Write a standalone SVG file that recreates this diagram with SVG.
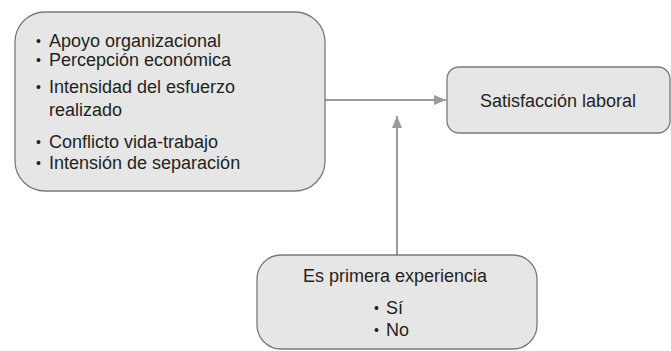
<svg xmlns="http://www.w3.org/2000/svg" width="671" height="351" viewBox="0 0 671 351">
<defs>
<style>
.box{fill:#e6e6e7;stroke:#7a7a7a;stroke-width:1.3}
.t{font-family:"Liberation Sans",Arial,sans-serif;font-size:18px;fill:#231f20}
.b{font-size:14px}
.c{text-anchor:middle}
.conn{stroke:#9a9a9a;stroke-width:2;fill:none}
</style>
<marker id="ah" viewBox="0 0 12 10" refX="12" refY="5" markerWidth="12" markerHeight="10" markerUnits="userSpaceOnUse" orient="auto">
<path d="M0,0 L12,5 L0,10 Z" fill="#9a9a9a"/>
</marker>
</defs>
<g id="connectors">
<line class="conn" x1="325" y1="100" x2="446" y2="100" marker-end="url(#ah)"/>
<line class="conn" x1="397" y1="255" x2="397" y2="116" marker-end="url(#ah)"/>
</g>
<g id="factores">
<rect class="box" x="15" y="12" width="310" height="179" rx="30" ry="30"/>
<text class="t"><tspan class="b" x="36" y="46">•</tspan><tspan x="49" y="47">Apoyo organizacional</tspan></text>
<text class="t"><tspan class="b" x="36" y="65">•</tspan><tspan x="49" y="66">Percepción económica</tspan></text>
<text class="t"><tspan class="b" x="36" y="92">•</tspan><tspan x="49" y="93">Intensidad del esfuerzo</tspan></text>
<text class="t" x="49" y="116">realizado</text>
<text class="t"><tspan class="b" x="36" y="147">•</tspan><tspan x="49" y="148">Conflicto vida-trabajo</tspan></text>
<text class="t"><tspan class="b" x="36" y="168">•</tspan><tspan x="49" y="169">Intensión de separación</tspan></text>
</g>
<g id="satisfaccion">
<rect class="box" x="447" y="67" width="223" height="66" rx="12" ry="12"/>
<text class="t c" x="558" y="107">Satisfacción laboral</text>
</g>
<g id="experiencia">
<rect class="box" x="257" y="255" width="280" height="94" rx="24" ry="24"/>
<text class="t c" x="395" y="282">Es primera experiencia</text>
<text class="t"><tspan class="b" x="374" y="313">•</tspan><tspan x="386" y="314">Sí</tspan></text>
<text class="t"><tspan class="b" x="374" y="335">•</tspan><tspan x="386" y="336">No</tspan></text>
</g>
</svg>
